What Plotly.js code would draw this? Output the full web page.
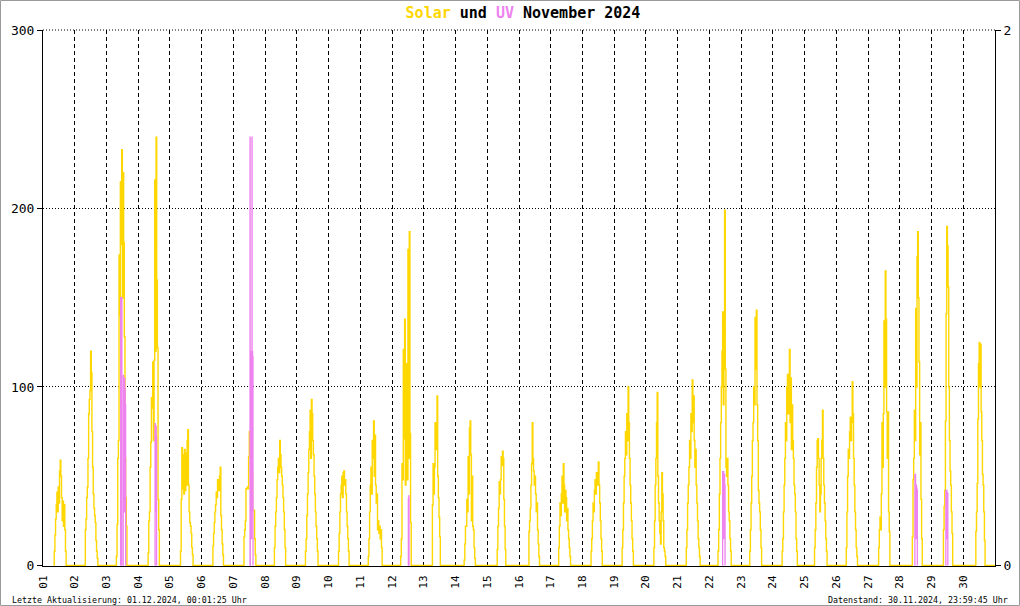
<!DOCTYPE html>
<html>
<head>
<meta charset="utf-8">
<script src="https://cdn.plot.ly/plotly-3.0.1.min.js"></script>
<style>
html,body{margin:0;padding:0;background:#fff;}
#chart{width:1020px;height:606px;}
</style>
</head>
<body>
<div id="chart"></div>
<script>
// ---- data ----
const days = ['01','02','03','04','05','06','07','08','09','10','11','12','13','14','15',
              '16','17','18','19','20','21','22','23','24','25','26','27','28','29','30'];
// first (zero) sample of each day's daylight block, in hours; samples every 30 min
const solarStartHour = [8, 7.5, 7, 7, 7.5, 8, 7.5, 6.5, 6, 7, 5.5, 6, 6, 6, 7,
                        7, 5.5, 6, 5.5, 5.5, 6, 6, 6, 6.5, 7, 7, 7.5, 9, 8.5, 9];
const solarStepMinutes = 30;

const solar01 = [0, 8, 17, 26, 34, 41, 30, 44, 35, 53, 59, 50, 38, 25, 36, 22, 34, 20, 8, 0];
const solar02 = [0, 20, 26, 38, 44, 60, 85, 93, 98, 120, 108, 75, 55, 40, 32, 28, 24, 14, 8, 4, 0];
const solar03 = [0, 5, 23, 60, 70, 174, 140, 215, 180, 233, 150, 220, 181, 128, 60, 38, 22, 0];
const solar04 = [0, 7, 25, 30, 55, 69, 94, 88, 114, 70, 115, 216, 120, 240, 160, 122, 37, 20, 0];
const solar05 = [0, 8, 37, 66, 43, 62, 40, 65, 42, 63, 45, 70, 76, 45, 30, 24, 22, 18, 10, 6, 0];
const solar06 = [0, 11, 18, 24, 30, 34, 41, 38, 48, 45, 42, 50, 55, 28, 20, 12, 6, 0];
const solar07 = [0, 16, 20, 25, 43, 43, 44, 43, 61, 75, 70, 74, 39, 52, 31, 31, 31, 15, 6, 0];
const solar08 = [0, 10, 22, 30, 38, 48, 55, 60, 52, 70, 62, 55, 50, 45, 38, 30, 20, 10, 0];
const solar09 = [0, 8, 15, 28, 40, 52, 65, 75, 87, 60, 93, 85, 70, 62, 50, 40, 30, 22, 15, 8, 0];
const solar10 = [0, 8, 18, 30, 40, 45, 50, 38, 52, 53, 45, 48, 40, 30, 22, 15, 8, 0];
const solar11 = [0, 5, 15, 30, 45, 55, 40, 70, 60, 81, 50, 73, 45, 35, 40, 20, 25, 18, 22, 15, 20, 10, 0];
const solar12 = [0, 5, 15, 57, 48, 121, 71, 138, 45, 113, 100, 48, 177, 60, 187, 74, 24, 0];
const solar13 = [0, 34, 57, 40, 55, 80, 65, 70, 95, 50, 38, 27, 16, 0];
const solar14 = [0, 3, 12, 22, 22, 37, 30, 61, 40, 77, 81, 62, 25, 50, 22, 20, 10, 4, 0];
const solar15 = [0, 9, 22, 32, 47, 40, 48, 61, 56, 64, 60, 37, 22, 9, 0];
const solar16 = [0, 19, 25, 32, 45, 57, 80, 60, 53, 45, 50, 40, 30, 35, 20, 12, 5, 0];
const solar17 = [0, 10, 22, 35, 28, 40, 50, 35, 57, 45, 30, 42, 38, 25, 32, 20, 15, 10, 5, 0];
const solar18 = [0, 8, 15, 25, 35, 30, 42, 48, 40, 52, 45, 50, 58, 45, 35, 25, 15, 8, 0];
const solar19 = [0, 10, 20, 35, 50, 60, 75, 62, 85, 70, 100, 80, 60, 45, 35, 25, 15, 8, 0];
const solar20 = [0, 10, 25, 45, 60, 80, 97, 50, 35, 25, 18, 12, 30, 52, 40, 25, 10, 8, 5, 0];
const solar21 = [0, 10, 20, 35, 45, 55, 70, 60, 85, 75, 104, 80, 95, 70, 55, 65, 45, 35, 25, 15, 10, 5, 0];
const solar22 = [0, 8, 20, 40, 60, 80, 100, 120, 142, 90, 130, 199, 110, 55, 50, 60, 45, 30, 25, 15, 8, 0];
const solar23 = [0, 8, 20, 35, 50, 70, 80, 100, 90, 139, 110, 143, 90, 70, 42, 35, 30, 20, 10, 0];
const solar24 = [0, 8, 15, 30, 45, 60, 80, 70, 100, 107, 85, 95, 121, 80, 105, 65, 90, 70, 60, 45, 40, 30, 15, 8, 0];
const solar25 = [0, 10, 20, 35, 55, 70, 71, 60, 45, 30, 40, 60, 70, 87, 60, 45, 35, 25, 15, 8, 0];
const solar26 = [0, 10, 30, 50, 65, 60, 75, 83, 70, 80, 103, 85, 60, 45, 30, 20, 10, 5, 0];
const solar27 = [0, 10, 20, 27, 20, 40, 80, 55, 85, 137, 100, 165, 138, 86, 60, 86, 30, 19, 0];
const solar28 = [0, 16, 48, 60, 87, 70, 144, 100, 173, 187, 150, 114, 62, 80, 37, 15, 0];
const solar29 = [0, 20, 33, 42, 81, 141, 190, 179, 156, 100, 70, 53, 45, 30, 18, 0];
const solar30 = [0, 19, 30, 46, 82, 113, 125, 100, 124, 86, 70, 51, 45, 30, 14, 0];

const dataEnd = '2024-11-30 23:59:45';

// UV index (right axis), only the non-zero episodes, separated by gaps
const uvTime = [
  '2024-11-03 10:40','2024-11-03 10:45','2024-11-03 11:40', null,
  '2024-11-03 12:35','2024-11-03 12:40','2024-11-03 12:50','2024-11-03 13:00','2024-11-03 13:10','2024-11-03 13:20',
  '2024-11-03 13:30','2024-11-03 13:40','2024-11-03 13:50','2024-11-03 14:00','2024-11-03 14:10','2024-11-03 14:20','2024-11-03 14:30', null,
  '2024-11-04 12:40','2024-11-04 12:45','2024-11-04 12:55','2024-11-04 13:05','2024-11-04 13:15','2024-11-04 13:25',
  '2024-11-04 13:35','2024-11-04 13:45','2024-11-04 13:55', null,
  '2024-11-07 12:30','2024-11-07 12:35','2024-11-07 12:40','2024-11-07 12:45','2024-11-07 12:55','2024-11-07 13:05',
  '2024-11-07 13:15','2024-11-07 13:25','2024-11-07 13:35','2024-11-07 13:45','2024-11-07 13:55','2024-11-07 14:05',
  '2024-11-07 14:10','2024-11-07 14:20','2024-11-07 14:30','2024-11-07 14:40','2024-11-07 14:50', null,
  '2024-11-12 12:15','2024-11-12 12:20','2024-11-12 12:30','2024-11-12 12:40','2024-11-12 12:50', null,
  '2024-11-22 09:50','2024-11-22 10:00','2024-11-22 10:10','2024-11-22 10:20','2024-11-22 10:30','2024-11-22 10:40',
  '2024-11-22 10:50','2024-11-22 11:00','2024-11-22 11:10','2024-11-22 11:20','2024-11-22 11:30','2024-11-22 11:40','2024-11-22 11:50', null,
  '2024-11-28 11:20','2024-11-28 11:25','2024-11-28 11:35','2024-11-28 11:45','2024-11-28 11:55','2024-11-28 12:05',
  '2024-11-28 12:15','2024-11-28 12:25','2024-11-28 12:35','2024-11-28 12:45','2024-11-28 12:55','2024-11-28 13:05','2024-11-28 13:15', null,
  '2024-11-29 10:45','2024-11-29 10:50','2024-11-29 11:00','2024-11-29 11:10','2024-11-29 11:20','2024-11-29 11:30',
  '2024-11-29 11:40','2024-11-29 11:50','2024-11-29 12:00','2024-11-29 12:10','2024-11-29 12:20'
];
const uvValue = [
  0, 1.0, 0, null,
  0, 0.71, 0.3, 0.7, 0.2, 0.68, 0.4, 0.7, 0.3, 0.66, 0.2, 0.6, 0, null,
  0, 0.53, 0.2, 0.5, 0.3, 0.52, 0.25, 0.48, 0, null,
  0, 1.6, 0, 0.8, 0.1, 0.8, 0.2, 0.8, 0.1, 0.8, 0.2, 1.6, 0.3, 0.8, 0.2, 0.78, 0, null,
  0, 0.25, 0.1, 0.26, 0, null,
  0, 0.35, 0.1, 0.34, 0.15, 0.35, 0.1, 0.33, 0.2, 0.34, 0.1, 0.3, 0, null,
  0, 0.34, 0.1, 0.34, 0.15, 0.29, 0.1, 0.3, 0.2, 0.29, 0.1, 0.28, 0, null,
  0, 0.28, 0.1, 0.27, 0.15, 0.28, 0.1, 0.26, 0.2, 0.27, 0
];

const titleParts = {solar: 'Solar', mid: ' und ', uv: 'UV', rest: ' November 2024'};
const footerLeft = 'Letzte Aktualisierung: 01.12.2024, 00:01:25 Uhr';
const footerRight = 'Datenstand: 30.11.2024, 23:59:45 Uhr';

// ---- build ----
const solarByDay = [solar01, solar02, solar03, solar04, solar05, solar06, solar07, solar08, solar09, solar10,
                    solar11, solar12, solar13, solar14, solar15, solar16, solar17, solar18, solar19, solar20,
                    solar21, solar22, solar23, solar24, solar25, solar26, solar27, solar28, solar29, solar30];
function pad(n){ return String(n).padStart(2, '0'); }
function stamp(day, hour){
  const totalMin = Math.round(hour * 60);
  return '2024-11-' + day + ' ' + pad(Math.floor(totalMin / 60)) + ':' + pad(totalMin % 60);
}
const solarX = [], solarY = [];
solarByDay.forEach((vals, i) => {
  vals.forEach((v, k) => {
    solarX.push(stamp(days[i], solarStartHour[i] + k * solarStepMinutes / 60));
    solarY.push(v);
  });
});
solarX.push(dataEnd); solarY.push(0);

const SOLAR_COLOR = '#FFD700';
const UV_COLOR = '#EE82EE';
const FONT = 'DejaVu Sans Mono, Liberation Mono, monospace';

const traces = [
  {type: 'scatter', mode: 'lines', x: solarX, y: solarY, yaxis: 'y',
   line: {color: SOLAR_COLOR, width: 1.4, shape: 'hv'}, hoverinfo: 'skip'},
  {type: 'scatter', mode: 'lines', x: uvTime, y: uvValue, yaxis: 'y2', connectgaps: false,
   line: {color: UV_COLOR, width: 1.3, shape: 'hv'}, hoverinfo: 'skip'}
];

const L = 43, R = 25, T = 30, B = 40, W = 1020, H = 606;
const pw = W - L - R, ph = H - T - B;
const px = x => (x - L) / pw;
const py = y => (H - B - y) / ph;

const layout = {
  width: W, height: H,
  margin: {l: L, r: R, t: T, b: B, pad: 0},
  paper_bgcolor: '#ffffff', plot_bgcolor: '#ffffff',
  font: {family: FONT, size: 12, color: '#000'},
  showlegend: false,
  title: {
    text: '<span style="color:' + SOLAR_COLOR + '">' + titleParts.solar + '</span>' + titleParts.mid +
          '<span style="color:' + UV_COLOR + '">' + titleParts.uv + '</span>' + titleParts.rest,
    font: {family: FONT, size: 15, color: '#000', weight: 'bold'},
    xref: 'container', x: 523 / W, xanchor: 'center',
    yref: 'container', y: 1 - 13 / H, yanchor: 'middle'
  },
  xaxis: {
    type: 'date',
    range: ['2024-11-01 00:00', '2024-12-01 00:00'],
    tickmode: 'array',
    tickvals: days.map(d => '2024-11-' + d),
    ticktext: days,
    tickangle: -90,
    tickfont: {family: FONT, size: 11, color: '#000'},
    ticks: 'outside', ticklen: 4, tickcolor: 'rgba(0,0,0,0)',
    showgrid: true, gridcolor: '#000', gridwidth: 1, griddash: '4px,3px',
    showline: true, linecolor: '#000', linewidth: 1,
    zeroline: false, layer: 'below traces', fixedrange: true
  },
  yaxis: {
    range: [-0.3, 300],
    tickmode: 'array', tickvals: [0, 100, 200, 300],
    tickfont: {family: FONT, size: 13, color: '#000'},
    ticks: 'outside', ticklen: 5, tickcolor: '#000',
    showgrid: true, gridcolor: '#000', gridwidth: 1, griddash: '1px,2px',
    showline: true, linecolor: '#000', linewidth: 1,
    zeroline: false, layer: 'below traces', fixedrange: true
  },
  yaxis2: {
    overlaying: 'y', side: 'right',
    range: [-0.002, 2],
    tickmode: 'array', tickvals: [0, 2],
    tickfont: {family: FONT, size: 13, color: '#000'},
    ticks: 'outside', ticklen: 5, tickcolor: '#000',
    showgrid: false, showline: true, linecolor: '#000', linewidth: 1,
    zeroline: false, fixedrange: true
  },
  shapes: [
    {type: 'line', xref: 'paper', yref: 'paper', x0: 0, x1: 1, y0: 1, y1: 1,
     line: {color: '#000', width: 1, dash: '1px,2px'}, layer: 'below'},
    {type: 'rect', xref: 'paper', yref: 'paper',
     x0: px(0.5), x1: px(W - 0.5), y0: py(H - 0.5), y1: py(0.5),
     line: {color: '#9a9a9a', width: 1}, fillcolor: 'rgba(0,0,0,0)', layer: 'above'}
  ],
  annotations: [
    {text: footerLeft, xref: 'paper', yref: 'paper', x: px(10), y: py(600),
     xanchor: 'left', yanchor: 'middle', showarrow: false,
     font: {family: FONT, size: 8.3, color: '#000'}},
    {text: footerRight, xref: 'paper', yref: 'paper', x: px(1010), y: py(600),
     xanchor: 'right', yanchor: 'middle', showarrow: false,
     font: {family: FONT, size: 8.3, color: '#000'}}
  ]
};

Plotly.newPlot('chart', traces, layout, {displayModeBar: false, staticPlot: true});
</script>
</body>
</html>
